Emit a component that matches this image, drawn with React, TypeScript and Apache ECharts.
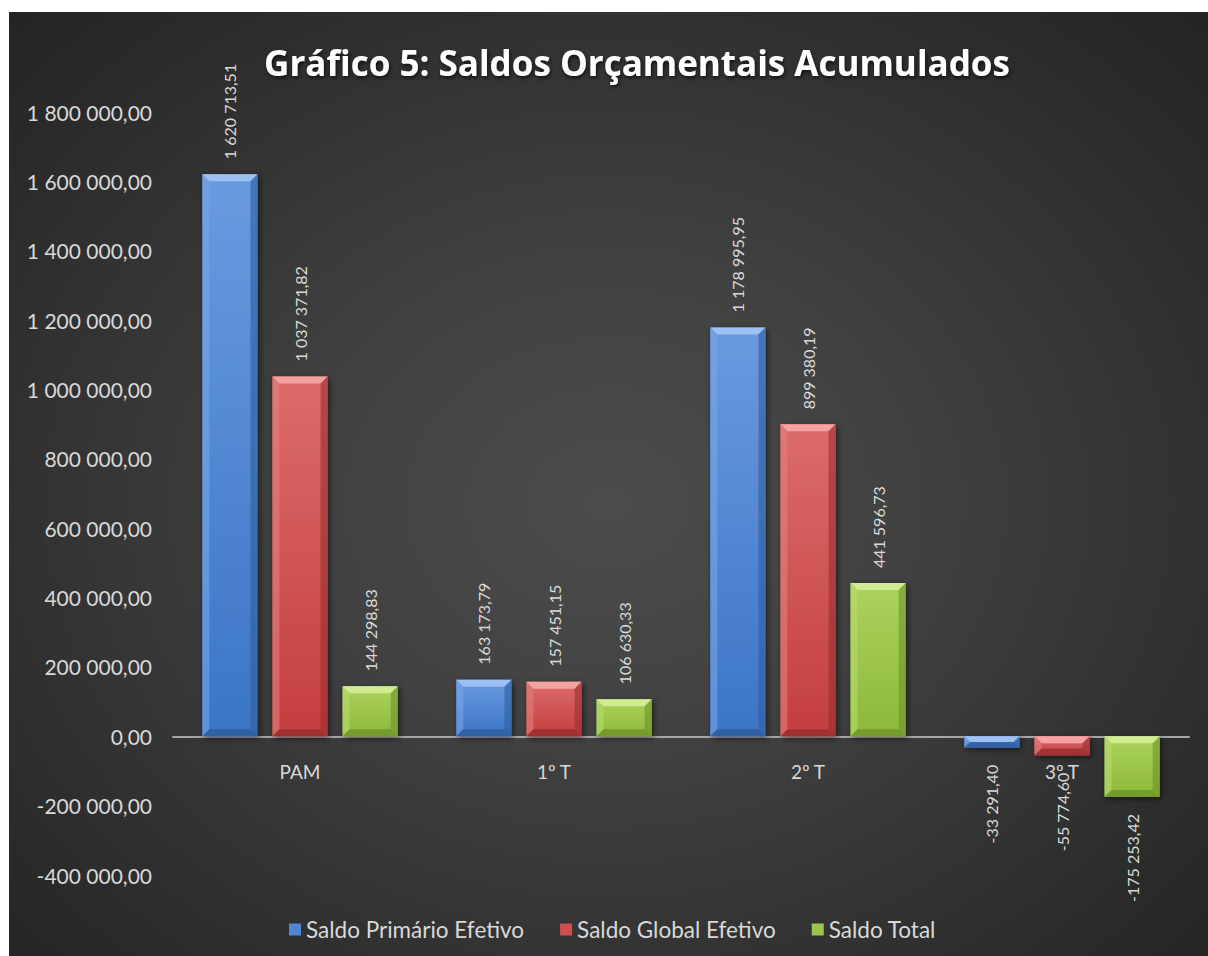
import React, { useEffect, useRef } from 'react';
import * as echarts from 'echarts';

const categories = ['PAM', '1º T', '2º T', '3º T'];
const seriesNames = ['Saldo Primário Efetivo', 'Saldo Global Efetivo', 'Saldo Total'];
const saldoPrimario = [1620713.51, 163173.79, 1178995.95, -33291.4];
const saldoGlobal = [1037371.82, 157451.15, 899380.19, -55774.6];
const saldoTotal = [144298.83, 106630.33, 441596.73, -175253.42];
const yMin = -400000;
const yMax = 1800000;
const yStep = 200000;

const FONT = 'Lato, "Open Sans", sans-serif';
const TEXT = '#d9d9d9';

const CHART_W = 1199;
const CHART_H = 944;
const GRID = { left: 164, right: 19, top: 100, bottom: 81 };

const palettes = [
  { face: ['#6a9ae0', '#3b75c6'], top: '#9dc1f2', left: '#78a5e6', right: '#2f5e9e', bottom: '#2c5896', legend: '#4f86d0' },
  { face: ['#dc6c6c', '#c43e3e'], top: '#f2a2a2', left: '#e27e7e', right: '#9a2e2e', bottom: '#922b2b', legend: '#cf4f4f' },
  { face: ['#acd35d', '#8db83a'], top: '#d1eb93', left: '#b8da6f', right: '#6e9328', bottom: '#6a8e25', legend: '#9cc54b' },
];

function fmt(v: number): string {
  const neg = v < 0;
  const s = Math.abs(v).toFixed(2);
  const [i, d] = s.split('.');
  const ii = i.replace(/\B(?=(\d{3})+(?!\d))/g, ' ');
  return (neg ? '-' : '') + ii + ',' + d;
}

const BAR_RATIO = 0.217;
const GAP_RATIO = 0.059;

function makeRender(sIdx: number) {
  return (params: any, api: any) => {
    const cat = api.value(0);
    const val = api.value(1);
    const p0 = api.coord([cat, 0]);
    const p1 = api.coord([cat, val]);
    const catW = api.size([1, 0])[0];
    const bw = catW * BAR_RATIO;
    const gap = catW * GAP_RATIO;
    const cx = p0[0] + (sIdx - 1) * (bw + gap);
    const x = cx - bw / 2;
    const top = Math.min(p0[1], p1[1]);
    const h = Math.abs(p1[1] - p0[1]);
    const b = Math.min(7, h / 2, bw / 2);
    const pal = palettes[sIdx];
    const bot = top + h;
    const children: any[] = [
      {
        type: 'rect',
        shape: { x, y: top, width: bw, height: h },
        style: {
          fill: {
            type: 'linear', x: 0, y: 0, x2: 0, y2: 1,
            colorStops: [
              { offset: 0, color: pal.face[0] },
              { offset: 1, color: pal.face[1] },
            ],
          },
          shadowBlur: 6,
          shadowColor: 'rgba(0,0,0,0.55)',
          shadowOffsetX: 2,
          shadowOffsetY: 2,
        },
      },
      {
        type: 'polygon',
        shape: { points: [[x, top], [x + bw, top], [x + bw - b, top + b], [x + b, top + b]] },
        style: { fill: pal.top },
      },
      {
        type: 'polygon',
        shape: { points: [[x, top], [x + b, top + b], [x + b, bot - b], [x, bot]] },
        style: { fill: pal.left, opacity: 0.6 },
      },
      {
        type: 'polygon',
        shape: { points: [[x + bw, top], [x + bw, bot], [x + bw - b, bot - b], [x + bw - b, top + b]] },
        style: { fill: pal.right, opacity: 0.6 },
      },
      {
        type: 'polygon',
        shape: { points: [[x, bot], [x + b, bot - b], [x + bw - b, bot - b], [x + bw, bot]] },
        style: { fill: pal.bottom, opacity: 0.7 },
      },
      {
        type: 'text',
        x: cx,
        y: val >= 0 ? top - 15 : bot + 17,
        rotation: Math.PI / 2,
        style: {
          text: fmt(val),
          fill: TEXT,
          fontSize: 16,
          fontFamily: FONT,
          align: val >= 0 ? 'left' : 'right',
          verticalAlign: 'middle',
        },
      },
    ];
    return { type: 'group', children };
  };
}

export default function App() {
  const ref = useRef<HTMLDivElement>(null);
  useEffect(() => {
    if (!ref.current) return;
    const chart = echarts.init(ref.current, undefined, { renderer: 'svg' });
    const seriesData = [saldoPrimario, saldoGlobal, saldoTotal];
    const gridH = CHART_H - GRID.top - GRID.bottom;
    const zeroOffset = -((0 - yMin) / (yMax - yMin)) * gridH;
    chart.setOption({
      animation: false,
      backgroundColor: 'transparent',
      title: {
        text: 'Gráfico 5: Saldos Orçamentais Acumulados',
        left: 623,
        top: 28,
        textAlign: 'center',
        textStyle: {
          color: '#ffffff',
          fontSize: 35,
          fontWeight: 'bold',
          fontFamily: '"Open Sans", Lato, sans-serif',
          textShadowColor: 'rgba(0,0,0,0.7)',
          textShadowBlur: 4,
          textShadowOffsetX: 1,
          textShadowOffsetY: 2,
        },
      },
      legend: {
        bottom: 10,
        left: 275,
        itemWidth: 12,
        itemHeight: 12,
        itemGap: 36,
        icon: 'rect',
        textStyle: { color: TEXT, fontSize: 22.5, fontFamily: FONT },
        data: seriesNames.map((n, i) => ({ name: n, itemStyle: { color: palettes[i].legend } })),
      },
      grid: { ...GRID, containLabel: false },
      xAxis: {
        type: 'category',
        data: categories,
        offset: zeroOffset,
        axisLine: { onZero: false, lineStyle: { color: '#a6a6a6', width: 2 } },
        axisTick: { show: false },
        axisLabel: { color: TEXT, fontSize: 19, fontFamily: FONT, margin: 26 },
        splitLine: { show: false },
      },
      yAxis: {
        type: 'value',
        min: yMin,
        max: yMax,
        interval: yStep,
        axisLine: { show: false },
        axisTick: { show: false },
        splitLine: { show: false },
        axisLabel: { color: TEXT, fontSize: 21, fontFamily: FONT, margin: 21, formatter: (v: number) => fmt(v) },
      },
      series: seriesData.map((arr, sIdx) => ({
        type: 'custom',
        name: seriesNames[sIdx],
        itemStyle: { color: palettes[sIdx].legend },
        encode: { x: 0, y: 1 },
        data: arr.map((v, i) => [i, v]),
        renderItem: makeRender(sIdx),
        z: 3,
      })),
    });
    return () => chart.dispose();
  }, []);
  return (
    <div
      ref={ref}
      style={{
        position: 'absolute',
        left: 9,
        top: 12,
        width: CHART_W,
        height: CHART_H,
        background: 'radial-gradient(ellipse at 50% 52%, #4c4c4c 0%, #414141 35%, #2a2a2a 85%, #242424 100%)',
      }}
    />
  );
}
